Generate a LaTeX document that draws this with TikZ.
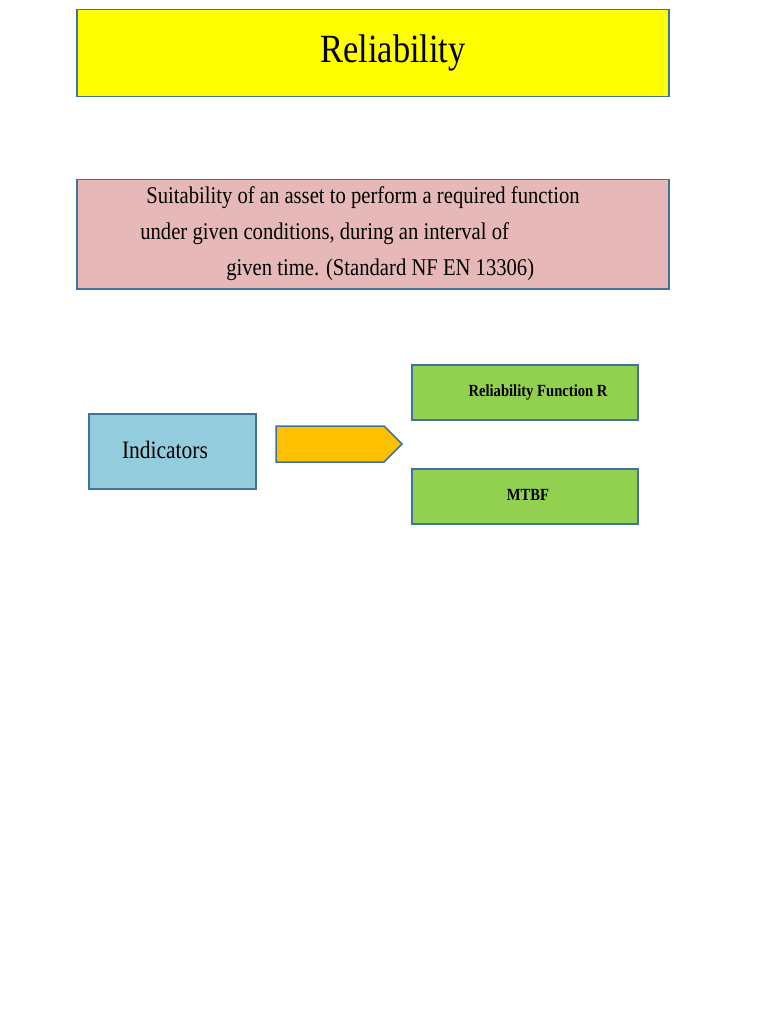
\documentclass[tikz,border=0pt]{standalone}
\usepackage{fontspec}
\setmainfont{Liberation Serif}[FakeStretch=0.86]
\usetikzlibrary{shapes.arrows}
\definecolor{bd}{HTML}{41719C}
\definecolor{ylw}{HTML}{FFFF00}
\definecolor{pnk}{HTML}{E6B9B8}
\definecolor{blu}{HTML}{93CDDD}
\definecolor{grn}{HTML}{92D050}
\definecolor{org}{HTML}{FFC000}
\begin{document}
\begin{tikzpicture}[x=1pt,y=-1pt,
  box/.style={draw=bd,line width=1.5pt,inner sep=0pt,anchor=north west}]
\useasboundingbox (0,0) rectangle (768,1024);
\node[box,fill=ylw,minimum width=592pt,minimum height=87pt] (title) at (76,9) {};
\node at (393,53) {\fontsize{40}{44}\selectfont Reliability};
\node[box,fill=pnk,minimum width=592pt,minimum height=109pt] (def) at (76,179) {};
\node[align=left,font=\fontsize{24}{36}\selectfont] at (360,234) {\hspace*{6pt}Suitability of an asset to perform a required function\\under given conditions, during an interval of\\\hspace*{86pt}given time. (Standard NF EN 13306)};
\node[box,fill=blu,minimum width=167pt,minimum height=75pt] (ind) at (88,413) {};
\node[font=\fontsize{25}{28}\selectfont] at (165,450) {Indicators};
\node[single arrow,draw=bd,line width=1.5pt,fill=org,minimum height=126pt,minimum width=36pt,single arrow head extend=0pt,inner sep=0pt,single arrow tip angle=90] (arr) at (330,444) {};
\node[box,fill=grn,minimum width=226pt,minimum height=55pt] (r) at (411,364) {};
\node[font=\bfseries\fontsize{17}{20}\selectfont] at (538,392) {Reliability Function R};
\node[box,fill=grn,minimum width=226pt,minimum height=55pt] (m) at (411,468) {};
\node[font=\bfseries\fontsize{17}{20}\selectfont] at (528,495) {MTBF};
\end{tikzpicture}
\end{document}
